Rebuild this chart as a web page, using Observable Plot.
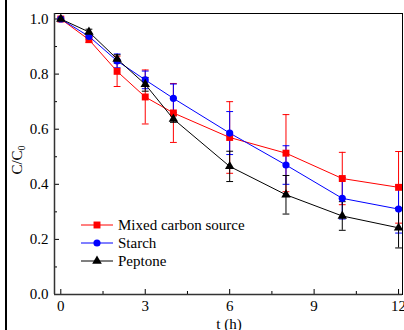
<!DOCTYPE html>
<html><head><meta charset="utf-8">
<script src="https://cdn.jsdelivr.net/npm/d3@7"></script>
<script src="https://cdn.jsdelivr.net/npm/@observablehq/plot@0.6"></script>
<style>
html,body{margin:0;padding:0;background:#fff;}
#wrap{position:relative;width:404px;height:330px;overflow:hidden;font-family:"Liberation Serif","Times New Roman",serif;}
#lb{position:absolute;left:5px;top:0;width:2px;height:330px;background:#000;}
#ylab{position:absolute;left:18px;top:160px;transform:translate(-50%,-50%) rotate(-90deg);font-size:15px;white-space:nowrap;}
#ylab sub{font-size:10px;vertical-align:-3px;}
#xlab{position:absolute;left:229px;top:324px;transform:translate(-50%,-50%);font-size:15px;white-space:nowrap;}
#legend{position:absolute;left:81px;top:216px;font-size:15px;}
.row{display:flex;align-items:center;height:18px;}
.row svg{margin-right:5px;}
</style></head>
<body><div id="wrap"><div id="lb"></div><div id="ylab">C/C<sub>0</sub></div><div id="xlab">t (h)</div><div id="legend"></div></div>
<script>
const times = [0, 1, 2, 3, 4, 6, 8, 10, 12];
const seriesNames = ["Mixed carbon source", "Starch", "Peptone"];
const mixed = [1.0, 0.925, 0.81, 0.717, 0.659, 0.57, 0.513, 0.421, 0.389];
const mixedErr = [0, 0.01, 0.055, 0.098, 0.107, 0.13, 0.14, 0.095, 0.13];
const starch = [1.0, 0.937, 0.848, 0.779, 0.712, 0.586, 0.47, 0.349, 0.31];
const starchErr = [0, 0.01, 0.025, 0.032, 0.052, 0.078, 0.07, 0.075, 0.087];
const peptone = [1.0, 0.953, 0.855, 0.763, 0.637, 0.465, 0.362, 0.285, 0.242];
const peptoneErr = [0, 0.01, 0.015, 0.025, 0.012, 0.055, 0.07, 0.052, 0.073];
const xTicks = [0, 3, 6, 9, 12];
const yTicks = [0, 0.2, 0.4, 0.6, 0.8, 1.0];

const colors = ["#ff0000", "#0000ff", "#000000"];
const symbols = ["square", "circle", "triangle"];
const radii = [3.9, 3.6, 3.5];
const vals = [mixed, starch, peptone];
const errs = [mixedErr, starchErr, peptoneErr];

const capSymbol = {draw(ctx, size){ const r = Math.sqrt(size / Math.PI); ctx.moveTo(-r, 0); ctx.lineTo(r, 0); }};

const marks = [];
seriesNames.forEach((name, i) => {
  const d = times.map((t, j) => ({t, v: vals[i][j], lo: vals[i][j] - errs[i][j], hi: vals[i][j] + errs[i][j]}))
    .filter(p => p.hi > p.lo + 0.011);
  marks.push(Plot.ruleX(d, {x: "t", y1: "lo", y2: "hi", stroke: colors[i], strokeWidth: 1}));
  marks.push(Plot.dot(d, {x: "t", y: "lo", symbol: capSymbol, r: 3.4, stroke: colors[i], strokeWidth: 1}));
  marks.push(Plot.dot(d, {x: "t", y: "hi", symbol: capSymbol, r: 3.4, stroke: colors[i], strokeWidth: 1}));
});
seriesNames.forEach((name, i) => {
  const d = times.map((t, j) => ({t, v: vals[i][j]}));
  marks.push(Plot.line(d, {x: "t", y: "v", stroke: colors[i], strokeWidth: 1}));
  marks.push(Plot.dot(d, {x: "t", y: "v", symbol: symbols[i], r: radii[i], fill: colors[i], stroke: "none"}));
});

const chart = Plot.plot({
  width: 404, height: 330,
  marginTop: 13, marginBottom: 36, marginLeft: 54, marginRight: 2,
  style: {fontFamily: '"Liberation Serif","Times New Roman",serif', fontSize: "15px", color: "#000", background: "transparent"},
  x: {domain: [-0.224, 12.14]},
  y: {domain: [0, 1.02]},
  marks: [
    Plot.frame({stroke: "#000", strokeWidth: 1}),
    Plot.axisX(xTicks, {tickSize: -5, tickFormat: d => d, tickPadding: 11, fontSize: 15, label: null}),
    Plot.axisX([1.5, 4.5, 7.5, 10.5], {tickSize: -3, text: null, label: null}),
    Plot.axisY(yTicks, {tickSize: -5, tickFormat: d => d.toFixed(1), tickPadding: 11, fontSize: 15, label: null}),
    Plot.axisY([0.1, 0.3, 0.5, 0.7, 0.9], {tickSize: -3, text: null, label: null}),
    Plot.ruleY([0], {stroke: "#333", strokeWidth: 1.5}),
    Plot.ruleX([-0.224], {stroke: "#333", strokeWidth: 1.5}),
    ...marks
  ]
});
document.getElementById("wrap").insertBefore(chart, document.getElementById("lb"));
chart.style.position = "absolute"; chart.style.left = "0"; chart.style.top = "0";

const legSyms = [d3.symbolSquare, d3.symbolCircle, d3.symbolTriangle];
const legSizes = [48, 40, 40];
const leg = document.getElementById("legend");
seriesNames.forEach((name, i) => {
  const row = document.createElement("div"); row.className = "row";
  const sym = d3.symbol(legSyms[i], legSizes[i])();
  row.innerHTML = `<svg width="32" height="12"><line x1="0" x2="32" y1="6" y2="6" stroke="${colors[i]}"/><path d="${sym}" transform="translate(16,6)" fill="${colors[i]}"/></svg><span>${name}</span>`;
  leg.appendChild(row);
});
</script></body></html>
